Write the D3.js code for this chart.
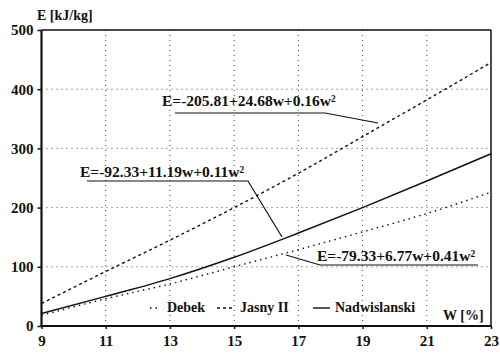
<!DOCTYPE html>
<html><head><meta charset="utf-8">
<script src="https://cdn.jsdelivr.net/npm/d3@7"></script>
<style>body{margin:0;background:#fff}svg{display:block}text{font-family:"Liberation Serif","Times New Roman",serif;font-weight:bold;fill:#111}</style>
</head><body><svg id="c" width="500" height="356"></svg>
<script>
const wValues = [9, 11, 13, 15, 17, 19, 21, 23];
const debek = [18, 46, 71, 100, 129, 159, 190, 226];
const jasny = [38, 92, 145, 200, 258, 320, 382, 445];
const nadwislanski = [21, 50, 80, 116, 157, 200, 245, 291];
const xTicks = [9, 11, 13, 15, 17, 19, 21, 23];
const yTicks = [0, 100, 200, 300, 400, 500];
const seriesNames = ["Debek", "Jasny II", "Nadwislanski"];
const formulas = ["E=-205.81+24.68w+0.16w²", "E=-92.33+11.19w+0.11w²", "E=-79.33+6.77w+0.41w²"];

const svg = d3.select("#c");
const L = 41.5, R = 491, T = 30, B = 326;
const x = d3.scaleLinear().domain([9, 23]).range([L, R]);
const y = d3.scaleLinear().domain([0, 500]).range([B, T]);

// grid
const g = svg.append("g");
g.selectAll(".gx").data(xTicks.slice(1, -1)).enter().append("line")
  .attr("x1", d => x(d)).attr("x2", d => x(d)).attr("y1", T).attr("y2", B + 3)
  .attr("stroke", "#444").attr("stroke-width", 1).attr("stroke-dasharray", "1,4");
g.selectAll(".gy").data(yTicks.slice(1, -1)).enter().append("line")
  .attr("y1", d => y(d)).attr("y2", d => y(d)).attr("x1", L).attr("x2", R)
  .attr("stroke", "#444").attr("stroke-width", 1).attr("stroke-dasharray", "1,4");

// frame
svg.append("line").attr("x1", L).attr("x2", R).attr("y1", T).attr("y2", T).attr("stroke", "#111").attr("stroke-width", 1.5);
svg.append("line").attr("x1", R).attr("x2", R).attr("y1", T).attr("y2", B).attr("stroke", "#111").attr("stroke-width", 1.5);

// axes
const xAxis = d3.axisBottom(x).tickValues(xTicks).tickSize(3).tickFormat(d3.format("d"));
const yAxis = d3.axisLeft(y).tickValues(yTicks).tickSize(4).tickFormat(d3.format("d"));
const ax = svg.append("g").attr("transform", `translate(0,${B})`).call(xAxis);
const ay = svg.append("g").attr("transform", `translate(${L},0)`).call(yAxis);
[ax, ay].forEach(a => {
  a.select(".domain").attr("stroke", "#111").attr("stroke-width", 2.2);
  a.selectAll(".tick line").attr("stroke", "#111").attr("stroke-width", 1.5);
  a.selectAll("text").attr("font-family", "Liberation Serif").attr("font-weight", "bold").attr("font-size", 15).attr("fill", "#111");
});
ax.select(".domain").attr("d", `M${L},0H${R}`);
ay.select(".domain").attr("d", `M0,${T}V${B}`);
ax.selectAll("text").attr("dy", "0.71em").attr("y", 9);
ay.selectAll("text").attr("x", -8);

// series
const line = d3.line().x((d, i) => x(wValues[i])).y(d => y(d)).curve(d3.curveMonotoneX);
const styles = [
  {data: debek, dash: "1.5,4", w: 1.4},
  {data: jasny, dash: "3,3", w: 1.4},
  {data: nadwislanski, dash: null, w: 1.5}
];
styles.forEach(s => {
  svg.append("path").attr("d", line(s.data)).attr("fill", "none").attr("stroke", "#111")
    .attr("stroke-width", s.w).attr("stroke-dasharray", s.dash);
});

// annotations
const ann = [
  {t: formulas[0], tx: 162, ty: 106, pts: [[175, 113], [325, 113], [378, 123]]},
  {t: formulas[1], tx: 80, ty: 177, pts: [[87, 181], [248, 181], [282, 237]]},
  {t: formulas[2], tx: 317, ty: 261, pts: [[286, 255], [320, 265], [478, 265]]}
];
ann.forEach(a => {
  svg.append("text").attr("x", a.tx).attr("y", a.ty).attr("font-size", 15.5).text(a.t);
  svg.append("path").attr("d", d3.line()(a.pts)).attr("fill", "none").attr("stroke", "#111").attr("stroke-width", 1.2);
});

// axis titles
svg.append("text").attr("x", 37).attr("y", 20).attr("font-size", 14).text("E [kJ/kg]");
svg.append("text").attr("x", 443).attr("y", 320).attr("font-size", 14).text("W [%]");

// legend
const leg = [
  {sx: 150, ex: 160, dash: "1.5,4", tx: 167},
  {sx: 217, ex: 232, dash: "3,3", tx: 240},
  {sx: 313, ex: 330, dash: null, tx: 335}
];
leg.forEach((l, i) => {
  svg.append("line").attr("x1", l.sx).attr("x2", l.ex).attr("y1", 308).attr("y2", 308)
    .attr("stroke", "#111").attr("stroke-width", 1.4).attr("stroke-dasharray", l.dash);
  svg.append("text").attr("x", l.tx).attr("y", 312).attr("font-size", 14).text(seriesNames[i]);
});
</script></body></html>
